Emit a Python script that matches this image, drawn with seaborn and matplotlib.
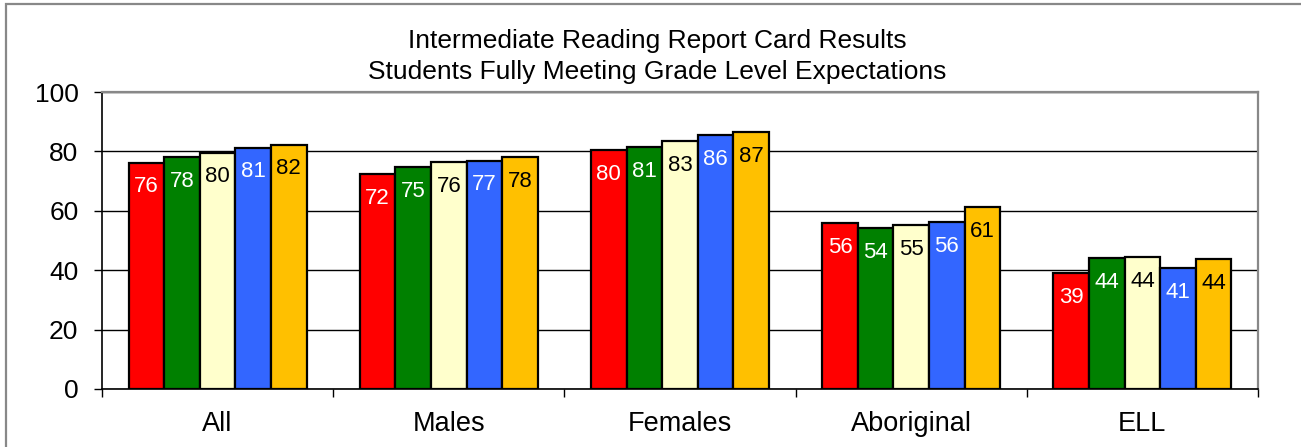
import matplotlib
matplotlib.use("Agg")
import matplotlib.pyplot as plt
from matplotlib.patches import Rectangle
import seaborn as sns
import pandas as pd

# ---- data ----
categories = ["All", "Males", "Females", "Aboriginal", "ELL"]
series_names = ["Series 1", "Series 2", "Series 3", "Series 4", "Series 5"]
series_1 = [76.2, 72.4, 80.4, 55.9, 39.0]
series_2 = [78.0, 74.7, 81.4, 54.1, 44.1]
series_3 = [79.6, 76.3, 83.4, 55.3, 44.3]
series_4 = [81.3, 76.9, 85.6, 56.2, 40.6]
series_5 = [82.3, 78.1, 86.6, 61.2, 43.7]
y_ticks = [0, 20, 40, 60, 80, 100]
title_lines = ["Intermediate Reading Report Card Results",
               "Students Fully Meeting Grade Level Expectations"]

colors = ["#FF0000", "#008000", "#FFFFCC", "#3366FF", "#FFC000"]
label_colors = ["white", "white", "black", "white", "black"]

all_series = [series_1, series_2, series_3, series_4, series_5]
rows = []
for name, vals in zip(series_names, all_series):
    for cat, v in zip(categories, vals):
        rows.append({"category": cat, "series": name, "value": v})
df = pd.DataFrame(rows)

sns.set_style("white")
plt.rcParams["font.family"] = ["Liberation Sans", "DejaVu Sans"]
plt.rcParams["text.color"] = "black"
plt.rcParams["xtick.labelcolor"] = "black"
plt.rcParams["ytick.labelcolor"] = "black"

W, H = 1301, 447
fig = plt.figure(figsize=(W / 100, H / 100), dpi=100)
L, R, B, T = 102, 1258, 389, 92
ax = fig.add_axes([L / W, 1 - B / H, (R - L) / W, (B - T) / H])

sns.barplot(data=df, x="category", y="value", hue="series",
            order=categories, hue_order=series_names,
            palette=colors, saturation=1, width=0.77,
            edgecolor="black", linewidth=1.6, legend=False, ax=ax, zorder=3)

ax.set_xlim(-0.5, len(categories) - 0.5)
ax.set_ylim(0, 100)
ax.set_yticks(y_ticks)
ax.set_yticklabels([str(t) for t in y_ticks], fontsize=19)
ax.set_xlabel("")
ax.set_ylabel("")

ax.yaxis.grid(True, color="black", linewidth=1.0)
ax.xaxis.grid(False)
ax.set_axisbelow(True)

ax.tick_params(axis="y", direction="out", length=6, width=1, color="black",
               pad=11, left=True, labelsize=19)
ax.tick_params(axis="x", which="major", length=0, pad=15.5, labelsize=19.5)
ax.set_xticks([i - 0.5 for i in range(len(categories) + 1)], minor=True)
ax.tick_params(axis="x", which="minor", direction="out", length=6, width=1,
               color="black", bottom=True)

for side in ["left", "bottom"]:
    ax.spines[side].set_color("black")
    ax.spines[side].set_linewidth(1.2)
for side in ["top", "right"]:
    ax.spines[side].set_visible(True)
    ax.spines[side].set_color("#888888")
    ax.spines[side].set_linewidth(1.6)

# value labels inside bars
for cont, tc in zip(ax.containers, label_colors):
    for bar in cont.patches:
        h = bar.get_height()
        ax.annotate(f"{h:.0f}", (bar.get_x() + bar.get_width() / 2, h),
                    xytext=(0, -17.5), textcoords="offset points",
                    ha="center", va="center", fontsize=16, color=tc, zorder=5)

fig.text(657 / W, 1 - 41 / H, title_lines[0], ha="center", va="center", fontsize=19)
fig.text(657 / W, 1 - 72 / H, title_lines[1], ha="center", va="center", fontsize=19)

# outer chart frame (gray, top and left visible)
fig.patches.append(Rectangle((6 / W, -0.2), 1.5, 1.2 - 4 / H, transform=fig.transFigure,
                             fill=False, edgecolor="#888888", linewidth=1.6))

fig.savefig("out.png", dpi=100)
